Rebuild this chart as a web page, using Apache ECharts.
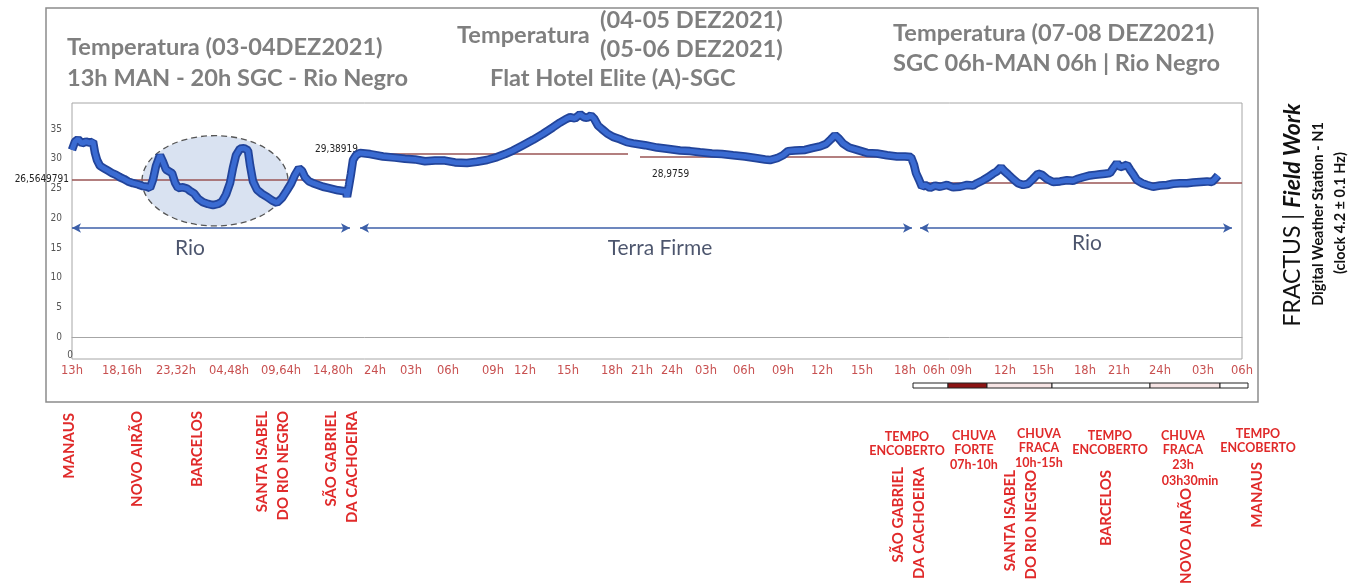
<!DOCTYPE html>
<html><head><meta charset="utf-8">
<script src="https://cdn.jsdelivr.net/npm/echarts@6/dist/echarts.min.js"></script>
<style>html,body{margin:0;padding:0;background:#fff}#c{width:1364px;height:588px}</style>
</head><body><div id="c"></div>
<script>
// ---------- data (x = position along the pasted time strip, y = temperature as drawn) ----------
const riverOutbound = [[0,31.5],[3,32.9],[6,33.3],[10,32.6],[14,32.9],[18,32.7],[21,32.9],[23,31.0],[25,29.8],[28,28.8],[32,28.4],[36,28.0],[40,27.6],[44,27.3],[48,26.9],[52,26.6],[56,26.2],[61,25.9],[66,25.7],[71,25.4],[75,25.3],[78,25.1],[81,26.5],[84,28.8],[88,30.6],[91,29.5],[94,28.2],[97,27.9],[100,27.6],[103,26.0],[106,25.1],[111,25.2],[115,25.0],[118,24.6],[122,24.2],[126,23.3],[131,22.7],[136,22.4],[141,22.2],[146,22.4],[150,22.8],[154,24.0],[158,25.9],[161,28.5],[164,30.6],[168,31.7],[172,31.8],[176,31.4],[178,29.0],[181,26.2],[185,24.8],[190,24.1],[195,23.6],[200,23.0],[205,22.6],[210,23.4],[215,24.7],[219,25.8],[223,27.3],[227,28.4],[230,28.0],[233,26.9],[237,26.2],[241,25.9],[246,25.6],[251,25.3],[256,25.1],[261,24.9],[266,24.7],[271,24.6],[274,24.6],[275,23.6],[277,25.5],[279,27.5],[281,29.8],[284,30.6]];
const terraFirme = [[288,31.0],[298,30.8],[311,30.4],[323,30.2],[333,30.0],[343,29.9],[353,29.6],[363,29.7],[373,29.7],[383,29.4],[395,29.3],[405,29.5],[415,29.8],[425,30.3],[433,30.8],[441,31.4],[451,32.3],[461,33.2],[471,34.2],[481,35.3],[488,36.1],[494,36.7],[498,37.0],[503,36.8],[508,37.5],[512,37.0],[515,36.9],[519,37.3],[522,36.8],[526,35.6],[530,35.0],[535,34.3],[541,33.7],[548,33.3],[555,32.8],[561,32.6],[573,32.3],[585,31.9],[595,31.7],[608,31.4],[618,31.3],[628,31.1],[640,30.9],[650,30.8],[661,30.6],[673,30.4],[685,30.1],[693,29.9],[698,29.8],[705,30.1],[711,30.6],[716,31.3],[723,31.4],[733,31.5],[740,31.8],[748,32.1],[754,32.5],[759,33.3],[763,34.0],[767,33.4],[771,32.6],[777,31.9],[785,31.5],[795,31.0],[805,30.9],[815,30.6],[825,30.4],[833,30.4],[839,30.3],[842,29.0],[844,27.6],[847,26.5],[850,25.3]];
const riverReturn = [[853,25.6],[858,25.1],[863,25.5],[868,25.3],[875,25.6],[881,25.2],[888,25.3],[895,25.6],[901,25.5],[905,25.9],[911,26.4],[916,26.9],[921,27.5],[925,27.9],[929,28.6],[932,28.0],[936,27.4],[941,26.6],[946,25.9],[951,25.6],[956,25.8],[961,26.6],[966,27.5],[970,27.3],[975,26.6],[981,26.1],[988,26.2],[995,26.4],[1001,26.3],[1005,26.6],[1011,26.9],[1018,27.2],[1023,27.3],[1028,27.4],[1033,27.5],[1038,27.6],[1042,28.6],[1045,29.3],[1048,28.6],[1052,28.8],[1055,29.0],[1058,28.2],[1062,27.2],[1065,26.4],[1070,25.9],[1075,25.6],[1081,25.3],[1088,25.5],[1095,25.6],[1101,25.8],[1108,25.9],[1115,25.9],[1121,26.0],[1128,26.1],[1135,26.2],[1140,26.1],[1143,26.6],[1146,27.2]];

const tickPos    = [0,50,104,157,209,261,303,339,376,421,453,496,540,570,600,634,672,711,750,790,833,862,889,933,971,1013,1047,1088,1131,1170];
const tickLabels = ['13h','18,16h','23,32h','04,48h','09,64h','14,80h','24h','03h','06h','09h','12h','15h','18h','21h','24h','03h','06h','09h','12h','15h','18h','06h','09h','12h','15h','18h','21h','24h','03h','06h'];
const yTicks = [0,5,10,15,20,25,30,35];

const meanStart  = [0,288,568,848];
const meanEnd    = [278,556,840,1170];
const meanLevel  = [26.56,30.9,30.3,25.9];
const meanLabels = ['26,5649791','29,38919','28,9759',''];

const zoneStart = [0,288,848];
const zoneEnd   = [278,840,1160];
const zoneLevel = 18.35;
const zoneNames = ['Rio','Terra Firme','Rio'];
const zoneLabelPos   = [118,588,1015];
const zoneLabelLevel = [15.0,15.0,15.8];

const highlightZone = {xFrom:70, xTo:216, yFrom:18.7, yTo:33.9};

const weatherStart = [841,876,915,980,1078,1148];
const weatherEnd   = [876,915,980,1078,1148,1176];
const weatherKind  = ['encoberto','forte','fraca','encoberto','fraca','encoberto'];

// ---------- chart ----------
const chart = echarts.init(document.getElementById('c'), null, {renderer:'canvas'});
const tempData = riverOutbound.concat(terraFirme, riverReturn);
const meanColor = '#9a5454';
const fontTitle = 'Lato';

const meanLines = meanStart.map((s,i)=>{
  const lbl = {show: meanLabels[i] !== '', formatter: meanLabels[i], color:'#222', fontSize:10,
               fontFamily:'DejaVu Sans Condensed, DejaVu Sans'};
  if (i === 0) { lbl.position = 'start'; lbl.distance = 3; }
  if (i === 1) { lbl.position = 'start'; lbl.distance = 2; lbl.offset = [0,-4]; }
  if (i === 2) { lbl.position = 'insideStartBottom'; lbl.distance = 12; lbl.offset=[0,0]; }
  return [{coord:[s, meanLevel[i]], label: lbl}, {coord:[meanEnd[i], meanLevel[i]]}];
});

const zoneArrows = zoneStart.map((s,i)=>[{coord:[s, zoneLevel]},{coord:[zoneEnd[i], zoneLevel]}]);

const option = {
  animation:false,
  backgroundColor:'#fff',
  grid:{left:72, right:122, top:103, bottom:229, show:true, borderColor:'#a6a6a6', borderWidth:1, containLabel:false},
  xAxis:{type:'value', min:0, max:1170,
    axisLine:{show:true, lineStyle:{color:'#a6a6a6'}}, axisTick:{show:false}, splitLine:{show:false},
    axisLabel:{customValues:tickPos, color:'#c85050', fontSize:11.5, fontFamily:'DejaVu Sans', margin:6,
      formatter:(v)=>{const k=tickPos.indexOf(Math.round(v)); return k>=0?tickLabels[k]:'';}}},
  yAxis:{type:'value', min:-3.7, max:39.4,
    axisLine:{show:false}, axisTick:{show:false}, splitLine:{show:false},
    axisLabel:{customValues:yTicks, color:'#555', fontSize:10, fontFamily:'DejaVu Sans Condensed, DejaVu Sans', margin:10}},
  series:[
    {type:'line', name:'mean', data:[], silent:true,
      markLine:{silent:true, symbol:'none', lineStyle:{color:meanColor, width:1.5, type:'solid'}, data:meanLines, z:1}},
    {type:'line', name:'zones', data:[], silent:true,
      markLine:{silent:true, symbol:['arrow','arrow'], symbolSize:[7,9], label:{show:false},
        lineStyle:{color:'#3c5fa8', width:1.5, type:'solid'}, data:zoneArrows}},
    {type:'line', name:'tempShadow', data:tempData, showSymbol:false, symbol:'none', silent:true,
      lineStyle:{color:'#22449a', width:8.5}, z:3},
    {type:'line', name:'temp', data:tempData, showSymbol:false, symbol:'none', silent:true,
      lineStyle:{color:'#3a6bd2', width:5}, z:4},
    {type:'scatter', name:'zoneNames', symbolSize:0, silent:true,
      data:zoneLabelPos.map((x,i)=>[x, zoneLabelLevel[i], zoneNames[i]]),
      label:{show:true, position:'inside', formatter:(p)=>p.data[2], color:'#1f2a48', fontSize:21, fontFamily:fontTitle}}
  ]
};
chart.setOption(option);

// ---------- annotations ----------
function px(x,y){return chart.convertToPixel({gridIndex:0},[x,y]);}
const g = [];
function txt(text,x,y,opt){
  opt = opt || {};
  g.push({type:'text', x:x, y:y, rotation:opt.rot||0, z:10, silent:true,
    style:{text:text, fill:opt.fill||'#7f7f7f', fontSize:opt.size||23.6, fontWeight:opt.weight||'bold',
      fontStyle:opt.style||'normal', fontFamily:opt.family||fontTitle,
      align:opt.align||'left', textAlign:opt.align||'left', verticalAlign:'middle', textVerticalAlign:'middle',
      lineHeight:opt.lh||undefined, rich:opt.rich||undefined}});
}
// outer frame
g.push({type:'rect', shape:{x:46,y:8,width:1212,height:394}, style:{fill:'none', stroke:'#8c8c8c', lineWidth:1.5}, z:0, silent:true});
// highlight ellipse
const e0 = px(highlightZone.xFrom, highlightZone.yFrom), e1 = px(highlightZone.xTo, highlightZone.yTo);
g.push({type:'ellipse', z:0, silent:true,
  shape:{cx:(e0[0]+e1[0])/2, cy:(e0[1]+e1[1])/2, rx:Math.abs(e1[0]-e0[0])/2, ry:Math.abs(e1[1]-e0[1])/2},
  style:{fill:'rgba(186,202,230,0.55)', stroke:'#555', lineWidth:1.3, lineDash:[6,4]}});
// weather strip under x axis
const wColor = {encoberto:'#ffffff', forte:'#8b1414', fraca:'#f6e4e4'};
weatherStart.forEach((s,i)=>{
  const a = px(s,0)[0], b = px(weatherEnd[i],0)[0];
  g.push({type:'rect', z:5, silent:true, shape:{x:a, y:383, width:b-a, height:5},
    style:{fill:wColor[weatherKind[i]], stroke:'#222', lineWidth:1}});
});
// corner zero
txt('0', 70, 355, {size:10, weight:'normal', family:'DejaVu Sans Condensed, DejaVu Sans', fill:'#555', align:'center'});
// titles
txt('Temperatura (03-04DEZ2021)', 67, 47);
txt('13h MAN - 20h SGC - Rio Negro', 67, 78);
txt('Temperatura', 457, 35);
txt('(04-05 DEZ2021)', 600, 20);
txt('(05-06 DEZ2021)', 600, 49);
txt('Flat Hotel Elite (A)-SGC', 490, 78);
txt('Temperatura (07-08 DEZ2021)', 893, 33);
txt('SGC 06h-MAN 06h | Rio Negro', 893, 63);
// right side vertical caption
txt('FRACTUS | {b|Field Work}', 1293, 215, {rot:Math.PI/2, size:23, weight:'normal', fill:'#111', align:'center',
  rich:{b:{fontWeight:'bold', fontStyle:'italic', fontSize:23, fontFamily:fontTitle, fill:'#111'}}});
txt('Digital Weather Station - N1', 1318, 214, {rot:Math.PI/2, size:14.5, fill:'#111', align:'center'});
txt('(clock 4.2 ± 0.1 Hz)', 1340, 213, {rot:Math.PI/2, size:14.5, fill:'#111', align:'center'});
// place names (vertical, red)
const red = '#e02a2a';
const vOpt = {rot:Math.PI/2, size:15, fill:red, align:'right', lh:21};
txt('MANAUS', 69, 413, vOpt);
txt('NOVO AIRÃO', 137, 411, vOpt);
txt('BARCELOS', 197, 411, vOpt);
txt('SANTA ISABEL\nDO RIO NEGRO', 273, 411, vOpt);
txt('SÃO GABRIEL\nDA CACHOEIRA', 342, 411, vOpt);
txt('SÃO GABRIEL\nDA CACHOEIRA', 909, 467, vOpt);
txt('SANTA ISABEL\nDO RIO NEGRO', 1021, 470, vOpt);
txt('BARCELOS', 1106, 470, vOpt);
txt('NOVO AIRÃO', 1186, 488, vOpt);
txt('MANAUS', 1257, 462, vOpt);
// weather notes (horizontal, red)
const hOpt = {size:12.5, fill:red, align:'center', lh:14.5};
txt('TEMPO\nENCOBERTO', 907, 444, hOpt);
txt('CHUVA\nFORTE\n07h-10h', 974, 450, hOpt);
txt('CHUVA\nFRACA\n10h-15h', 1039, 448, hOpt);
txt('TEMPO\nENCOBERTO', 1110, 443, hOpt);
txt('CHUVA\nFRACA\n23h', 1183, 450, hOpt);
txt('03h30min', 1190, 481, hOpt);
txt('TEMPO\nENCOBERTO', 1258, 441, hOpt);

chart.setOption({graphic:{elements:g}});
</script></body></html>
